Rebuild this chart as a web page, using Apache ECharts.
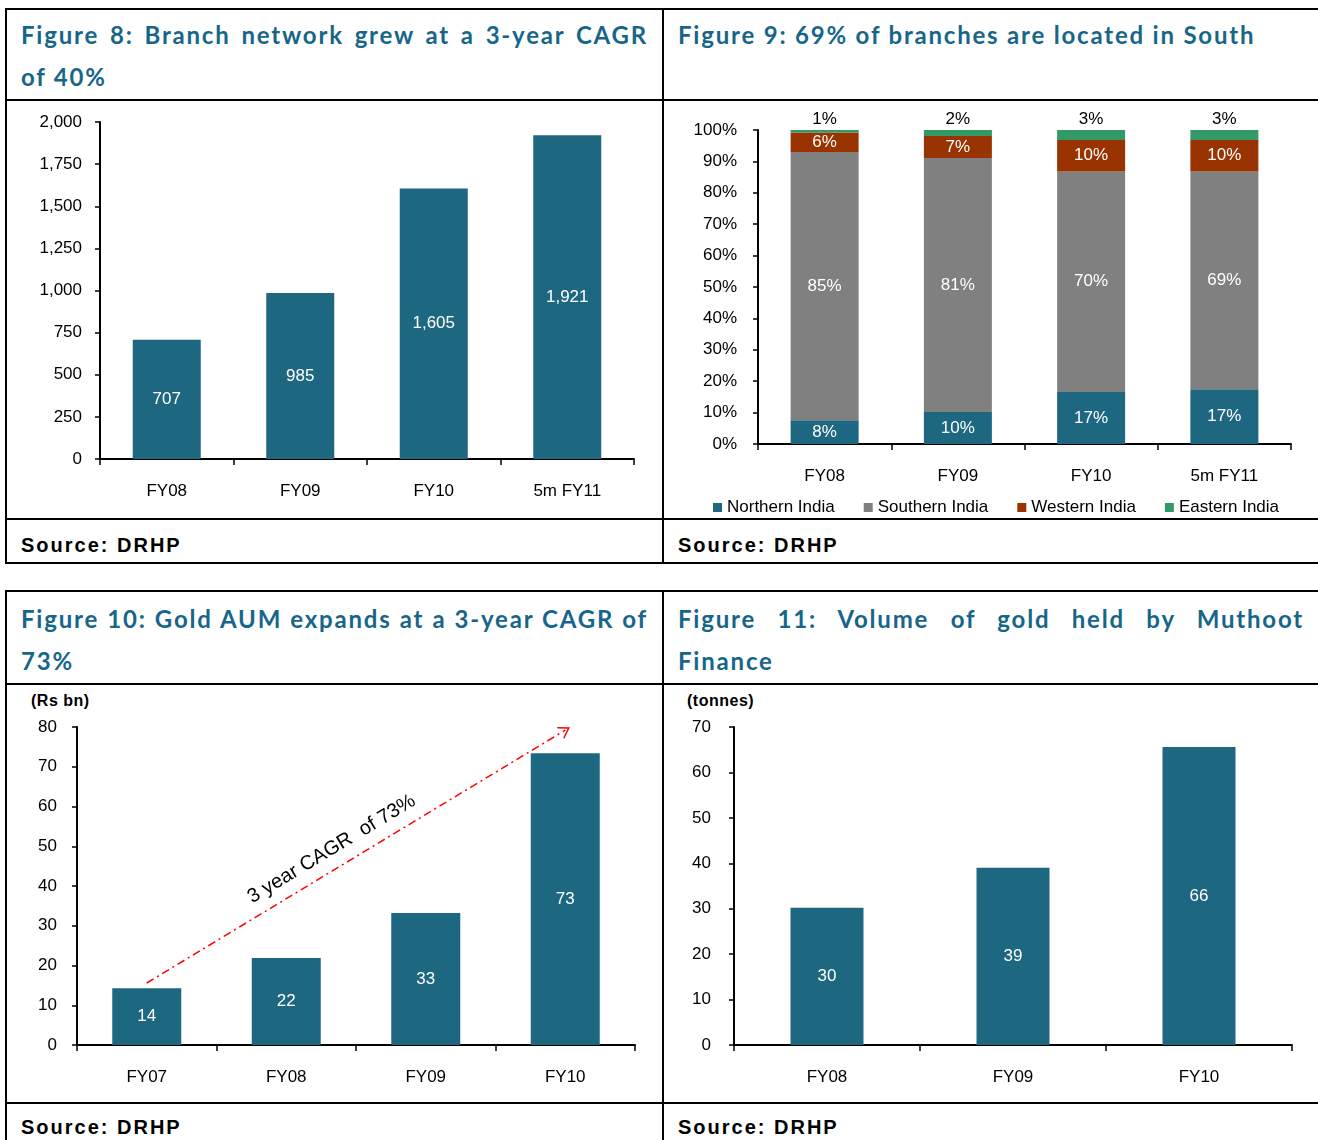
<!DOCTYPE html>
<html>
<head>
<meta charset="utf-8">
<title>Muthoot Finance - branches and gold</title>
<script src="https://cdn.jsdelivr.net/npm/echarts@6/dist/echarts.min.js"></script>
<style>
  html, body { margin: 0; padding: 0; background: #fff; }
  #page { position: relative; width: 1318px; height: 1140px; overflow: hidden; }
  .hl { position: absolute; height: 2px; background: #000; }
  .vl { position: absolute; width: 2px; background: #000; }
  .title {
    position: absolute;
    font-family: Lato, 'Noto Sans', sans-serif;
    font-weight: bold;
    font-size: 24px;
    letter-spacing: 1.8px;
    line-height: 42px;
    color: #17668a;
  }
  .just { display: block; text-align: justify; text-align-last: justify; }
  .src {
    position: absolute;
    font-family: 'Liberation Sans', Arial, sans-serif;
    font-weight: bold;
    font-size: 20px;
    letter-spacing: 2px;
    color: #000;
  }
  .unit {
    position: absolute;
    font-family: 'Liberation Sans', Arial, sans-serif;
    font-weight: bold;
    font-size: 16px;
    letter-spacing: 0.5px;
    color: #000;
  }
  #chart { position: absolute; left: 0; top: 0; width: 1318px; height: 1140px; }
</style>
</head>
<body>
<div id="page">
  <!-- top row frame -->
  <div class="hl" style="left:5px;top:8px;width:1313px"></div>
  <div class="hl" style="left:5px;top:99px;width:1313px"></div>
  <div class="hl" style="left:5px;top:518px;width:1313px"></div>
  <div class="hl" style="left:5px;top:562px;width:1313px"></div>
  <div class="vl" style="left:5px;top:8px;height:556px"></div>
  <div class="vl" style="left:662px;top:8px;height:556px"></div>
  <!-- bottom row frame -->
  <div class="hl" style="left:5px;top:590px;width:1313px"></div>
  <div class="hl" style="left:5px;top:683px;width:1313px"></div>
  <div class="hl" style="left:5px;top:1102px;width:1313px"></div>
  <div class="vl" style="left:5px;top:590px;height:550px"></div>
  <div class="vl" style="left:662px;top:590px;height:550px"></div>

  <div class="title" style="left:21px;top:14px;width:627px">
    <span class="just">Figure 8: Branch network grew at a 3-year CAGR</span>of 40%
  </div>
  <div class="title" style="left:678px;top:14px;width:626px">
    Figure 9: 69% of branches are located in South
  </div>
  <div class="title" style="left:21px;top:598px;width:627px">
    <span class="just">Figure 10: Gold AUM expands at a 3-year CAGR of</span>73%
  </div>
  <div class="title" style="left:678px;top:598px;width:626px">
    <span class="just">Figure 11: Volume of gold held by Muthoot</span>Finance
  </div>

  <div class="src" style="left:21px;top:534px">Source: DRHP</div>
  <div class="src" style="left:678px;top:534px">Source: DRHP</div>
  <div class="src" style="left:21px;top:1116px">Source: DRHP</div>
  <div class="src" style="left:678px;top:1116px">Source: DRHP</div>

  <div class="unit" style="left:31px;top:692px">(Rs bn)</div>
  <div class="unit" style="left:687px;top:692px">(tonnes)</div>

  <div id="chart"></div>
</div>
<script>
// Figure 8: branch network
var branchYears = ['FY08', 'FY09', 'FY10', '5m FY11'];
var branchCount = [707, 985, 1605, 1921];

// Figure 9: regional split of branches (%)
var regionYears = ['FY08', 'FY09', 'FY10', '5m FY11'];
var northShare = [7.6, 10.2, 16.6, 17.4];
var southShare = [85.4, 80.9, 70.2, 69.4];
var westShare = [6.2, 7.0, 10.0, 10.0];
var eastShare = [0.8, 1.9, 3.2, 3.2];

// Figure 10: gold AUM (Rs bn)
var aumYears = ['FY07', 'FY08', 'FY09', 'FY10'];
var aumValues = [14.3, 21.9, 33.2, 73.4];
var cagrFrom = 15.6;
var cagrTo = 79.2;
var cagrText = '3 year CAGR  of 73%';

// Figure 11: gold held (tonnes)
var goldYears = ['FY08', 'FY09', 'FY10'];
var goldTonnes = [30.2, 39.0, 65.6];

var BAR = '#1e6780';
var FONT = 'Liberation Sans';

function fmtThousands(v) {
  return Math.round(v).toLocaleString('en-US');
}

function catAxis(gridIndex, data) {
  return {
    type: 'category',
    gridIndex: gridIndex,
    data: data,
    axisLine: { lineStyle: { color: '#000', width: 2 } },
    axisTick: { show: true, length: 6, lineStyle: { color: '#000', width: 1.5 } },
    axisLabel: { color: '#000', fontSize: 17, fontFamily: FONT, margin: 24 },
    splitLine: { show: false }
  };
}

function valAxis(gridIndex, max, interval, margin, formatter) {
  return {
    type: 'value',
    gridIndex: gridIndex,
    min: 0,
    max: max,
    interval: interval,
    axisLine: { show: true, lineStyle: { color: '#000', width: 2 } },
    axisTick: { show: true, length: 5, lineStyle: { color: '#000', width: 1.5 } },
    axisLabel: { color: '#000', fontSize: 17, fontFamily: FONT, margin: margin, formatter: formatter },
    splitLine: { show: false }
  };
}

function pct(p) {
  return Math.round(p.value) + '%';
}

function stackSeries(name, data, color, labelPos) {
  return {
    name: name,
    type: 'bar',
    stack: 'region',
    xAxisIndex: 1,
    yAxisIndex: 1,
    barWidth: 68,
    data: data,
    itemStyle: { color: color },
    label: {
      show: true,
      position: labelPos,
      distance: 2,
      color: labelPos === 'top' ? '#000' : '#fff',
      fontSize: 17,
      fontFamily: FONT,
      formatter: pct
    }
  };
}

var chart = echarts.init(document.getElementById('chart'));

chart.setOption({
  animation: false,
  backgroundColor: 'transparent',
  grid: [
    { left: 100, top: 122, width: 534, height: 337 },
    { left: 758, top: 130, width: 533, height: 314 },
    { left: 77, top: 727, width: 558, height: 318 },
    { left: 734, top: 727, width: 558, height: 318 }
  ],
  xAxis: [
    catAxis(0, branchYears),
    catAxis(1, regionYears),
    catAxis(2, aumYears),
    catAxis(3, goldYears)
  ],
  yAxis: [
    valAxis(0, 2000, 250, 18, fmtThousands),
    valAxis(1, 100, 10, 21, '{value}%'),
    valAxis(2, 80, 10, 20),
    valAxis(3, 70, 10, 23)
  ],
  legend: {
    left: 708,
    top: 494,
    itemWidth: 9,
    itemHeight: 9,
    itemGap: 29,
    icon: 'rect',
    textStyle: { color: '#000', fontSize: 17, fontFamily: FONT },
    data: ['Northern India', 'Southern India', 'Western India', 'Eastern India']
  },
  series: [
    {
      type: 'bar',
      xAxisIndex: 0,
      yAxisIndex: 0,
      barWidth: 68,
      data: branchCount,
      itemStyle: { color: BAR },
      label: {
        show: true, position: 'inside', color: '#fff', fontSize: 17, fontFamily: FONT,
        formatter: function (p) { return fmtThousands(p.value); }
      }
    },
    stackSeries('Northern India', northShare, '#1e6780', 'inside'),
    stackSeries('Southern India', southShare, '#808080', 'inside'),
    stackSeries('Western India', westShare, '#993300', 'inside'),
    stackSeries('Eastern India', eastShare, '#339966', 'top'),
    {
      type: 'bar',
      xAxisIndex: 2,
      yAxisIndex: 2,
      barWidth: 69,
      data: aumValues,
      itemStyle: { color: BAR },
      label: {
        show: true, position: 'inside', color: '#fff', fontSize: 17, fontFamily: FONT,
        formatter: function (p) { return Math.round(p.value); }
      },
      markLine: {
        silent: true,
        symbol: ['none', 'path://M0,12 L6,0 L12,12 L10.6,12 L6,3 L1.4,12 Z'],
        symbolSize: [14, 11],
        lineStyle: { color: '#ff0000', width: 1.5, type: [8, 4, 2, 4] },
        label: {
          show: true,
          position: 'middle',
          formatter: cagrText,
          color: '#000',
          fontSize: 20,
          fontFamily: FONT,
          distance: 9,
          padding: [0, 34, 0, 0]
        },
        data: [[{ coord: ['FY07', cagrFrom] }, { coord: ['FY10', cagrTo] }]]
      }
    },
    {
      type: 'bar',
      xAxisIndex: 3,
      yAxisIndex: 3,
      barWidth: 73,
      data: goldTonnes,
      itemStyle: { color: BAR },
      label: {
        show: true, position: 'inside', color: '#fff', fontSize: 17, fontFamily: FONT,
        formatter: function (p) { return Math.round(p.value); }
      }
    }
  ]
});
</script>
</body>
</html>
